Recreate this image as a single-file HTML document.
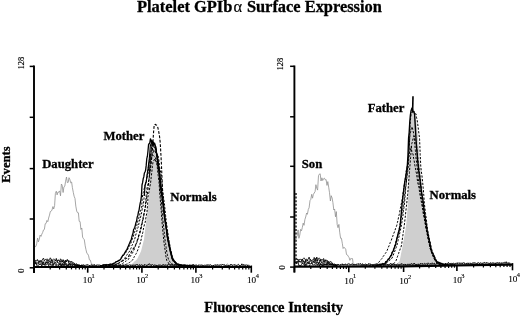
<!DOCTYPE html>
<html><head><meta charset="utf-8"><style>
html,body{margin:0;padding:0;background:#fff;}
svg{display:block;}
text{font-family:"Liberation Serif",serif;fill:#000;}
.t text,.t{stroke:#000;stroke-width:0.3;}
svg{will-change:transform;}
</style></head><body>
<svg width="520" height="316" viewBox="0 0 520 316">
<rect width="520" height="316" fill="#fff"/>
<path d="M105 266.3L105.6 266.2L106.2 266.3L106.8 266.3L107.4 266.2L108 266.3L108.6 266.3L109.2 266.2L109.8 266.3L110.4 266.3L111 266.3L111.6 266.3L112.2 266.3L112.8 266.3L113.4 266.3L114 266.2L114.6 266.3L115.2 266.3L115.8 266.3L116.4 266.3L117 266.3L117.6 266.3L118.2 266.2L118.8 266.2L119.4 266.3L120 266.3L120.6 266.3L121.2 266.3L121.8 266.3L122.4 266.3L123 266.1L123.6 266.3L124.2 266.3L124.8 266.1L125.4 266.2L126 266.2L126.6 266.3L127.2 266.3L127.8 266.2L128.4 265.9L129 265.8L129.6 265.5L130.2 265.2L130.8 265L131.4 264.4L132 263.9L132.6 263.3L133.2 262.8L133.8 262.2L134.4 261.6L135 261.1L135.6 260.7L136.2 260L136.8 259.5L137.4 258.4L138 257.4L138.6 256L139.2 254.9L139.8 253.9L140.4 252.5L141 251.3L141.6 248.9L142.2 246.6L142.8 244.3L143.4 241.7L144 239.4L144.6 234.4L145.2 229.3L145.8 224.9L146.4 219.5L147 214L147.6 209.1L148.2 203.9L148.8 196.8L149.4 183.1L150 169.1L150.6 165.4L151.2 161.8L151.8 158.1L152.4 155.9L153 153L153.6 150.8L154.2 150.2L154.8 150.7L155.4 150.6L156 151.4L156.6 153.2L157.2 156.7L157.8 160.3L158.4 164.1L159 167.7L159.6 173.2L160.2 179.3L160.8 185.4L161.4 191L162 197.3L162.6 201.5L163.2 206.3L163.8 211.4L164.4 215.6L165 220L165.6 223.9L166.2 228.2L166.8 232.2L167.4 236.3L168 240.1L168.6 243L169.2 245.7L169.8 247.9L170.4 250.9L171 253.6L171.6 256.2L172.2 258.9L172.8 259.7L173.4 260.5L174 261.1L174.6 261.8L175.2 262.3L175.8 263.1L176.4 263.6L177 264.1L177.6 265L178.2 265.3L178.8 265.3L179.4 265.4L180 266L180.6 266.2L181.2 266.2L181.8 266.3L182.4 266.3L183 266.3L183.6 266.3L184.2 266.3L184.8 266.3L185.4 266.3L186 266.3L186.6 266.3L187.2 266.3L187.8 266.3L188.4 266.3L189 266.3L189.6 266.2L190.2 266.3L190.8 266.3L191.4 266.3L192 266.3L192.6 266.3L193.2 266.3L193.8 266.3L194.4 266.3L195 266.2L195 267L105 267Z" fill="#cfcfcf"/>
<path d="M105 265.9L105.6 265.8L106.2 265.7L106.8 265.5L107.4 265.5L108 265.3L108.6 265.1L109.2 265L109.8 265L110.4 265.1L111 265.1L111.6 265.1L112.2 264.9L112.8 264.8L113.4 264.9L114 264.8L114.6 264.5L115.2 264.8L115.8 264.3L116.4 263.9L117 263.8L117.6 263.5L118.2 263.1L118.8 262.5L119.4 262.3L120 262.3L120.6 261.6L121.2 261L121.8 260.6L122.4 260.3L123 260.2L123.6 260.2L124.2 259L124.8 258.2L125.4 257.2L126 256L126.6 255.4L127.2 254.5L127.8 253.5L128.4 252.8L129 252L129.6 251.1L130.2 249.8L130.8 248.5L131.4 247.3L132 245.4L132.6 244.3L133.2 243.3L133.8 241.3L134.4 239.9L135 238.1L135.6 235.3L136.2 233.5L136.8 231.3L137.4 228.8L138 227.6L138.6 225L139.2 222.4L139.8 219.8L140.4 217.9L141 215.5L141.6 212.7L142.2 209.5L142.8 206.4L143.4 204.6L144 198.3L144.6 188.3L145.2 185.8L145.8 183.6L146.4 180.1L147 177.5L147.6 175.8L148.2 172L148.8 166.7L149.4 162.7L150 159L150.6 153.8L151.2 150.7L151.8 147.7L152.4 146.4L153 146L153.6 146.3L154.2 147.7L154.8 149L155.4 150.1L156 148.9L156.6 153.5L157.2 160.3L157.8 164.9L158.4 168.8L159 174.5L159.6 183.2L160.2 190.3L160.8 196.1L161.4 201.6L162 209.6L162.6 217.5L163.2 222.8L163.8 227.9L164.4 233.6L165 239.5L165.6 243.5L166.2 247.7L166.8 252.1L167.4 254.8L168 257.6L168.6 260.1L169.2 260.6L169.8 261.7L170.4 262.5L171 263.6L171.6 263.6L172.2 264.1L172.8 264.2L173.4 264.6L174 265L174.6 264.7L175.2 265.2L175.8 265L176.4 265.5L177 265.4L177.6 265.9L178.2 266.2L178.8 265.9L179.4 266.1L180 266.1L180.6 266L181.2 266.3L181.8 266.3L182.4 266.3L183 266.3L183.6 266.3L184.2 266.3L184.8 266.3L185.4 266.3L186 266.3L186.6 266.3L187.2 266.2L187.8 266.3L188.4 266.2L189 266.3L189.6 266.3L190.2 266.2L190.8 266.3L191.4 266.3L192 266.3L192.6 266.3L193.2 266.1L193.8 266.3L194.4 266L195 266.3" stroke="#000" stroke-width="1.0" fill="none" stroke-dasharray="2.2 1.5" stroke-linejoin="round"/>
<path d="M105 266.2L105.6 266L106.2 265.9L106.8 266.2L107.4 266.1L108 266.1L108.6 265.9L109.2 265.9L109.8 265.7L110.4 266.2L111 265.5L111.6 265.7L112.2 265.5L112.8 265.6L113.4 265.5L114 265.3L114.6 265.2L115.2 265.3L115.8 265.2L116.4 264.9L117 265.2L117.6 265.2L118.2 264.8L118.8 264.9L119.4 265L120 264.7L120.6 264.5L121.2 264.5L121.8 264.2L122.4 263.5L123 262.9L123.6 262.8L124.2 262.5L124.8 261.9L125.4 261.4L126 261.3L126.6 260.7L127.2 260.2L127.8 260.1L128.4 259.5L129 258.2L129.6 257.3L130.2 256.1L130.8 255.7L131.4 254.6L132 253.6L132.6 252.9L133.2 251.5L133.8 250.2L134.4 249L135 246.9L135.6 245.5L136.2 244L136.8 242.6L137.4 240.6L138 239L138.6 236L139.2 233.6L139.8 232.1L140.4 229L141 226.7L141.6 223.9L142.2 221.9L142.8 219.3L143.4 216.2L144 213.7L144.6 210L145.2 207.3L145.8 201.4L146.4 191.7L147 188.1L147.6 185.6L148.2 183.3L148.8 180L149.4 176.6L150 171.2L150.6 168.4L151.2 161.8L151.8 157.5L152.4 154.3L153 152.9L153.6 149.4L154.2 152.1L154.8 151.3L155.4 151.4L156 154.3L156.6 154L157.2 155.4L157.8 154.9L158.4 157.2L159 160.7L159.6 167.1L160.2 170.1L160.8 173L161.4 176.3L162 183.4L162.6 191.1L163.2 195.1L163.8 199.4L164.4 203.6L165 209.3L165.6 215.3L166.2 220.8L166.8 225.2L167.4 229.4L168 234L168.6 237.9L169.2 241.5L169.8 245L170.4 248.4L171 250.7L171.6 253.6L172.2 255.5L172.8 258.3L173.4 260.2L174 261.1L174.6 261.2L175.2 261.6L175.8 262.9L176.4 263.5L177 263.9L177.6 264.3L178.2 264.4L178.8 264.5L179.4 264.6L180 264.5L180.6 264.9L181.2 264.9L181.8 265.2L182.4 265.3L183 265.8L183.6 265.9L184.2 265.6L184.8 265.9L185.4 265.8L186 265.9L186.6 265.8L187.2 265.9L187.8 266L188.4 266.2L189 266.3L189.6 266.3L190.2 266.3L190.8 266.3L191.4 266.3L192 266.3L192.6 266.3L193.2 266.3L193.8 266.3L194.4 266.3L195 266.3" stroke="#000" stroke-width="1.0" fill="none" stroke-dasharray="2.2 1.5" stroke-linejoin="round"/>
<path d="M105 265.1L105.6 264.9L106.2 264.9L106.8 264.8L107.4 264.6L108 265.1L108.6 264.9L109.2 265L109.8 264.7L110.4 264.3L111 264.4L111.6 264L112.2 264.2L112.8 263.5L113.4 263.4L114 262.6L114.6 262.5L115.2 262.2L115.8 262.1L116.4 261.7L117 261.3L117.6 261.3L118.2 261L118.8 260.6L119.4 260.4L120 259.9L120.6 259.1L121.2 258.4L121.8 257.3L122.4 257.1L123 255.8L123.6 255.4L124.2 254.6L124.8 254.1L125.4 253L126 252.3L126.6 251.4L127.2 250.5L127.8 249.1L128.4 247.5L129 246.7L129.6 245.8L130.2 244.2L130.8 243.3L131.4 241.6L132 239.8L132.6 238.3L133.2 237L133.8 234.7L134.4 232.6L135 231L135.6 228.8L136.2 226.7L136.8 225.4L137.4 222.8L138 220.7L138.6 218.8L139.2 216.4L139.8 214.1L140.4 211.2L141 209.8L141.6 207.6L142.2 199.4L142.8 194L143.4 192.3L144 189.7L144.6 186.9L145.2 184.7L145.8 183.8L146.4 181.6L147 176.7L147.6 172.7L148.2 168.7L148.8 164.5L149.4 160.5L150 158.3L150.6 156.3L151.2 156L151.8 155.5L152.4 155L153 155.2L153.6 155.8L154.2 156.4L154.8 156.9L155.4 157.5L156 160L156.6 160.7L157.2 163.1L157.8 166.3L158.4 171.1L159 172.5L159.6 176.9L160.2 180.1L160.8 184.9L161.4 190.7L162 196.8L162.6 199.1L163.2 203.2L163.8 207.2L164.4 212.2L165 218.7L165.6 222.7L166.2 226L166.8 230L167.4 233.5L168 237.1L168.6 240.7L169.2 243.6L169.8 246.5L170.4 249.2L171 251.7L171.6 253.6L172.2 256.2L172.8 258L173.4 260.5L174 260.4L174.6 261.1L175.2 261.6L175.8 262.4L176.4 263.2L177 263.4L177.6 263.9L178.2 264.4L178.8 264.6L179.4 264.4L180 264.6L180.6 264.2L181.2 265L181.8 265.1L182.4 265.1L183 265.5L183.6 265.5L184.2 265.2L184.8 265.6L185.4 265.8L186 266L186.6 265.8L187.2 265.8L187.8 266L188.4 266.1L189 266.1L189.6 266.1L190.2 266.3L190.8 266.1L191.4 266.3L192 266.3L192.6 266.3L193.2 266.3L193.8 266.3L194.4 266.2L195 266.1" stroke="#000" stroke-width="1.0" fill="none" stroke-dasharray="2.2 1.5" stroke-linejoin="round"/>
<path d="M105 266L105.6 266.3L106.2 266.1L106.8 266.3L107.4 266.1L108 266.2L108.6 266L109.2 266.3L109.8 266.3L110.4 266.2L111 266.2L111.6 266.3L112.2 266.3L112.8 266.1L113.4 266.1L114 266.3L114.6 266.2L115.2 266.3L115.8 265.7L116.4 266L117 265.7L117.6 265.8L118.2 265.4L118.8 265.4L119.4 265.6L120 265.3L120.6 265.6L121.2 265.1L121.8 265.5L122.4 265.1L123 264.9L123.6 265L124.2 265L124.8 265L125.4 264.8L126 264.4L126.6 264.2L127.2 264.1L127.8 263.8L128.4 263L129 263L129.6 262.4L130.2 262.1L130.8 261.3L131.4 261L132 260.5L132.6 260L133.2 259.1L133.8 257.7L134.4 256.5L135 255.7L135.6 254.5L136.2 253.6L136.8 252.3L137.4 251L138 249.3L138.6 247.7L139.2 245.7L139.8 244.6L140.4 242.6L141 240.1L141.6 237.1L142.2 235L142.8 232.4L143.4 229.1L144 226.3L144.6 223.8L145.2 222.3L145.8 218.2L146.4 215L147 211.8L147.6 203.9L148.2 194.5L148.8 192.7L149.4 189.9L150 186L150.6 182.8L151.2 177.2L151.8 172.2L152.4 166.6L153 161.9L153.6 161.4L154.2 159.9L154.8 158.7L155.4 159.9L156 161.9L156.6 163.3L157.2 166.3L157.8 172.5L158.4 177.3L159 181.5L159.6 191.4L160.2 199L160.8 205.7L161.4 212.6L162 221.6L162.6 228.8L163.2 234.5L163.8 240.5L164.4 245.6L165 249.6L165.6 254.1L166.2 257.9L166.8 260.6L167.4 261.6L168 262.6L168.6 262.9L169.2 264.4L169.8 264.4L170.4 264.8L171 264.7L171.6 265L172.2 265.2L172.8 265.5L173.4 265.4L174 266L174.6 266.1L175.2 266.2L175.8 265.9L176.4 266.3L177 266.3L177.6 266.3L178.2 265.9L178.8 266.3L179.4 266.1L180 266.2L180.6 266.3L181.2 266.3L181.8 266.3L182.4 266.3L183 266.3L183.6 265.8L184.2 266.1L184.8 266.3L185.4 266.3L186 266.3L186.6 266.1L187.2 266.3L187.8 266.2L188.4 266.3L189 266.2L189.6 265.9L190.2 266.3L190.8 266.2L191.4 266.3L192 266.1L192.6 266.1L193.2 266.3L193.8 266.3L194.4 266.2L195 266.3" stroke="#000" stroke-width="1.0" fill="none" stroke-dasharray="2.2 1.5" stroke-linejoin="round"/>
<path d="M105 266.3L105.6 266.2L106.2 266.2L106.8 266.3L107.4 266.3L108 266.3L108.6 266.3L109.2 266.3L109.8 266.3L110.4 266.2L111 266.3L111.6 266.3L112.2 266.3L112.8 266.2L113.4 266L114 265.7L114.6 265.3L115.2 265L115.8 264.8L116.4 264.5L117 264.4L117.6 263.9L118.2 263.8L118.8 263.3L119.4 262.7L120 262.7L120.6 262.2L121.2 261.8L121.8 261.3L122.4 261.1L123 260.6L123.6 260.2L124.2 259.8L124.8 259.6L125.4 258.9L126 258.4L126.6 258.2L127.2 257.9L127.8 257.5L128.4 256.9L129 255.6L129.6 254.5L130.2 253.6L130.8 253.1L131.4 251.8L132 250.8L132.6 249.9L133.2 248.7L133.8 248.1L134.4 247L135 245.8L135.6 244.8L136.2 243.7L136.8 241.8L137.4 240L138 238.5L138.6 236.3L139.2 234.8L139.8 233.2L140.4 231L141 229L141.6 226.1L142.2 223.1L142.8 220.3L143.4 217.8L144 214.2L144.6 211.3L145.2 208.5L145.8 204.1L146.4 200.2L147 195.7L147.6 191.9L148.2 187.2L148.8 181.2L149.4 175.7L150 169.9L150.6 165.3L151.2 161.4L151.8 156.3L152.4 150.4L153 141.1L153.6 131.6L154.2 125L154.8 124.5L155.4 124.4L156 125.1L156.6 125.1L157.2 125.9L157.8 127.4L158.4 130L159 133.1L159.6 136.9L160.2 142.5L160.8 152.5L161.4 163.8L162 178.1L162.6 190.9L163.2 199.2L163.8 206.6L164.4 212.3L165 216.8L165.6 222.2L166.2 226.8L166.8 231.1L167.4 235.1L168 238.2L168.6 241.9L169.2 245.3L169.8 247.5L170.4 250.4L171 252.9L171.6 255.6L172.2 257.7L172.8 258.5L173.4 259.3L174 260.4L174.6 261.4L175.2 261.9L175.8 263L176.4 263.6L177 263.7L177.6 264.1L178.2 264.2L178.8 264.4L179.4 264.9L180 264.9L180.6 265.1L181.2 265.5L181.8 265.6L182.4 265.8L183 266L183.6 266.2L184.2 265.9L184.8 266.2L185.4 266.2L186 266.3L186.6 266.3L187.2 266.2L187.8 266.3L188.4 266.3L189 266.3L189.6 266.3L190.2 266.2L190.8 266.2L191.4 266.3L192 266.3L192.6 266.3L193.2 266.3L193.8 266.3L194.4 266.3L195 266.3" stroke="#000" stroke-width="1.1" fill="none" stroke-dasharray="2.8 1.6" stroke-linejoin="round"/>
<path d="M100 265.3L100.6 265.5L101.2 265.9L101.8 265.6L102.4 265.6L103 264.8L103.6 265.6L104.2 264.9L104.8 265.2L105.4 264.8L106 265.1L106.6 264.9L107.2 264.8L107.8 264.8L108.4 264.6L109 264.6L109.6 264.3L110.2 264L110.8 264.5L111.4 264.4L112 264.1L112.6 264.4L113.2 263.5L113.8 263.4L114.4 263.1L115 263L115.6 262.3L116.2 261.7L116.8 261.6L117.4 261.4L118 260.9L118.6 260.5L119.2 260.4L119.8 259.9L120.4 259.7L121 258.5L121.6 257L122.2 256.6L122.8 255.1L123.4 255.1L124 254.3L124.6 253.1L125.2 252.1L125.8 251.1L126.4 250.2L127 249.5L127.6 247.7L128.2 246.6L128.8 244.9L129.4 243.6L130 242.2L130.6 240.8L131.2 239.8L131.8 237.1L132.4 234.9L133 233.3L133.6 229.5L134.2 228.6L134.8 227.2L135.4 225.1L136 222.4L136.6 221L137.2 217.1L137.8 215.8L138.4 212.1L139 210.5L139.6 206.6L140.2 203.2L140.8 200.8L141.4 196.2L142 185L142.6 182.7L143.2 178.8L143.8 176.9L144.4 173L145 172L145.6 170.3L146.2 165.4L146.8 158.6L147.4 156.2L148 150.7L148.6 144.2L149.2 143.9L149.8 142.9L150.4 138.8L151 140.1L151.6 142.5L152.2 140.9L152.8 142.2L153.4 142.3L154 144.5L154.6 143.1L155.2 145.7L155.8 146.9L156.4 153.2L157 155.4L157.6 159.1L158.2 164.5L158.8 168.8L159.4 171.8L160 178.8L160.6 185.4L161.2 189.1L161.8 191.3L162.4 196.9L163 200.7L163.6 208.1L164.2 214L164.8 218.5L165.4 222.9L166 226.8L166.6 230.1L167.2 236.2L167.8 239.3L168.4 242.2L169 246L169.6 248.2L170.2 251.3L170.8 253.2L171.4 255.7L172 258.2L172.6 259.6L173.2 261L173.8 260.3L174.4 261.5L175 262.6L175.6 263.1L176.2 263.6L176.8 264L177.4 264L178 264.4L178.6 264.2L179.2 264.6L179.8 264.6L180.4 265.1L181 265.1L181.6 265.1L182.2 265.4L182.8 265.4L183.4 265.5L184 266L184.6 265.4L185.2 266.2L185.8 265.4L186.4 265.7L187 265.9L187.6 266.1L188.2 266.3L188.8 265.7L189.4 265.7L190 266.3L190.6 265.8L191.2 266L191.8 266.1L192.4 266.2L193 266.3L193.6 266.3L194.2 266.2L194.8 265.9" stroke="#000" stroke-width="1.3" fill="none" stroke-linejoin="round"/>
<path d="M144.4 195.8L145 185.9L145.6 182.7L146.2 181.8L146.8 176.8L147.4 172.5L148 168.9L148.6 163.8L149.2 159.2L149.8 152.7L150.4 144.7L151 145.3L151.6 140.2L152.2 143.3L152.8 141.7L153.4 144.9L154 144.2L154.6 144.5L155.2 145.3L155.8 148.4L156.4 151L157 155.9L157.6 159L158.2 163.4L158.8 167.5L159.4 170.5L160 180.1L160.6 187.3L161.2 191.5L161.8 195.7" stroke="#000" stroke-width="1.1" fill="none" stroke-linejoin="round"/>
<path d="M149.2 174.1L149.8 166.4L150.4 162.6L151 152.8L151.6 146.5L152.2 142.6L152.8 145.7L153.4 144.6L154 146.8L154.6 147L155.2 148.6L155.8 148.1L156.4 151.7L157 155.2L157.6 160.2L158.2 163.4L158.8 166.9L159.4 174.2" stroke="#000" stroke-width="0.9" fill="none" stroke-linejoin="round"/>
<path d="M156.6 153.3L157.2 156.3L157.8 160.2L158.4 165.4L159 168.8L159.6 173.8L160.2 178.9L160.8 185.1L161.4 191.1L162 196.6L162.6 201.2L163.2 205.8L163.8 211.4L164.4 216.4L165 219.6L165.6 224.1L166.2 228.2L166.8 232.4L167.4 236.9L168 240.7L168.6 242.6L169.2 245.2L169.8 247.9L170.4 250.8L171 253.5L171.6 256.3L172.2 258.8L172.8 259.9L173.4 260.6L174 261.1L174.6 261.4L175.2 262.7L175.8 262.9L176.4 263.5L177 264.5L177.6 264.8L178.2 265.1L178.8 265.4L179.4 265.7L180 266.1L180.6 265.8L181.2 265.9L181.8 266L182.4 266.3L183 266.2L183.6 266.2L184.2 266.3L184.8 266.3L185.4 266.2L186 266.3L186.6 266.3L187.2 266.3L187.8 266.3L188.4 266.3L189 266.3L189.6 266.1L190.2 266.3L190.8 266.3L191.4 266.3L192 265.9L192.6 266.3L193.2 266L193.8 266L194.4 266.3L195 266.3" stroke="#000" stroke-width="1.2" fill="none" stroke-linejoin="round"/>
<path d="M365 265.7L365.6 265.7L366.2 265.7L366.8 265.7L367.4 265.5L368 265.6L368.6 265.7L369.2 265.6L369.8 265.7L370.4 265.7L371 265.6L371.6 265.7L372.2 265.7L372.8 265.7L373.4 265.6L374 265.7L374.6 265.6L375.2 265.7L375.8 265.7L376.4 265.7L377 265.6L377.6 265.7L378.2 265.6L378.8 265.6L379.4 265.7L380 265.6L380.6 265.5L381.2 265.7L381.8 265.7L382.4 265.7L383 265.6L383.6 265.6L384.2 265.6L384.8 265.6L385.4 265.6L386 265.6L386.6 265.6L387.2 265.6L387.8 265.6L388.4 265.6L389 265.6L389.6 265.5L390.2 265.6L390.8 265.6L391.4 265.6L392 265.5L392.6 265.6L393.2 265.3L393.8 265.5L394.4 265.1L395 264.9L395.6 264.8L396.2 264.2L396.8 263.6L397.4 263.2L398 262.7L398.6 262.1L399.2 261.8L399.8 260.1L400.4 257.2L401 254L401.6 251.1L402.2 248.1L402.8 245.1L403.4 241.6L404 238.3L404.6 234.8L405.2 231.4L405.8 227.3L406.4 223.2L407 214.9L407.6 207.2L408.2 191.4L408.8 159.4L409.4 134.5L410 123.3L410.6 118.1L411.2 113.5L411.8 113.1L412.4 112.2L413 111.5L413.6 112.6L414.2 112.9L414.8 114.1L415.4 116.9L416 120L416.6 123.6L417.2 128.6L417.8 134.7L418.4 142.7L419 151.2L419.6 160.5L420.2 166.2L420.8 172.5L421.4 178.3L422 184.7L422.6 191.3L423.2 197.9L423.8 204.4L424.4 208.7L425 213.1L425.6 217.1L426.2 221.2L426.8 225.4L427.4 229.5L428 232.1L428.6 235.3L429.2 238.2L429.8 240.8L430.4 244L431 246.6L431.6 249.4L432.2 250.7L432.8 252.4L433.4 253.5L434 255L434.6 256.6L435.2 257.7L435.8 259.2L436.4 260.7L437 261.4L437.6 261.7L438.2 262L438.8 262.3L439.4 262.7L440 263.2L440.6 263.6L441.2 263.9L441.8 264.3L442.4 264.4L443 264.5L443.6 264.5L444.2 264.5L444.8 264.7L445.4 264.7L446 264.8L446.6 264.6L447.2 264.8L447.8 264.7L448.4 264.8L449 264.7L449.6 264.7L450.2 264.7L450.8 264.7L451.4 264.7L452 264.6L452.6 264.7L453.2 264.5L453.8 264.7L454.4 264.5L455 264.6L455 265.3L365 266.4Z" fill="#cfcfcf"/>
<path d="M365 266.4L365.6 266.4L366.2 266.4L366.8 266.3L367.4 266.4L368 266.2L368.6 266.4L369.2 266.4L369.8 266.4L370.4 266.4L371 266.4L371.6 266.2L372.2 266.3L372.8 266.4L373.4 266.4L374 266.1L374.6 266.2L375.2 266.4L375.8 266.4L376.4 266.4L377 266.4L377.6 266.2L378.2 266.2L378.8 265.9L379.4 265.6L380 265.4L380.6 265.4L381.2 265.2L381.8 264.6L382.4 264.6L383 264.1L383.6 263.5L384.2 263.2L384.8 262.7L385.4 261.9L386 261.5L386.6 261.4L387.2 260.7L387.8 260.5L388.4 260.1L389 259.3L389.6 257.7L390.2 256.7L390.8 255.1L391.4 254.3L392 252.7L392.6 251.4L393.2 250.1L393.8 248.6L394.4 246.8L395 244.8L395.6 242.9L396.2 240.5L396.8 238.2L397.4 236.2L398 234.3L398.6 232.2L399.2 229L399.8 225.8L400.4 222.7L401 219.1L401.6 215.7L402.2 212.6L402.8 209.3L403.4 205.4L404 200.8L404.6 195.5L405.2 190.7L405.8 186L406.4 181.3L407 174.1L407.6 166.8L408.2 158.9L408.8 151.1L409.4 142.5L410 134.4L410.6 132.2L411.2 128.9L411.8 126.9L412.4 127.6L413 130.8L413.6 133L414.2 137.6L414.8 144.4L415.4 150.7L416 157.9L416.6 162.5L417.2 167.8L417.8 173L418.4 179.6L419 183.3L419.6 187.8L420.2 190.1L420.8 194.4L421.4 198L422 202.4L422.6 205.7L423.2 209.8L423.8 213.9L424.4 217.8L425 221.6L425.6 225.5L426.2 229.7L426.8 231.9L427.4 235.1L428 237.9L428.6 240.8L429.2 243.7L429.8 246.5L430.4 249.2L431 251.1L431.6 252.2L432.2 253.9L432.8 255.1L433.4 256.9L434 258.1L434.6 259.5L435.2 260.8L435.8 261.7L436.4 262.4L437 262.8L437.6 262.8L438.2 263.4L438.8 264L439.4 264L440 264.4L440.6 265.1L441.2 265.1L441.8 265L442.4 265.3L443 265.4L443.6 265.4L444.2 265.2L444.8 265.5L445.4 265.5L446 265.5L446.6 265.5L447.2 265.4L447.8 265.5L448.4 265.4L449 265.4L449.6 265.3L450.2 265.4L450.8 265.4L451.4 265.4L452 265.4L452.6 265.2L453.2 265.3L453.8 265.4L454.4 265.3L455 265.2" stroke="#000" stroke-width="1.0" fill="none" stroke-dasharray="2.2 1.5" stroke-linejoin="round"/>
<path d="M365 266.4L365.6 266.4L366.2 266.3L366.8 266.3L367.4 266.4L368 266.4L368.6 266.4L369.2 266.4L369.8 266.4L370.4 266.4L371 266.3L371.6 266.3L372.2 266.4L372.8 266.2L373.4 266.3L374 266.4L374.6 266.3L375.2 266.4L375.8 266.2L376.4 266.4L377 266.4L377.6 266.4L378.2 266.2L378.8 266.4L379.4 266.4L380 266.4L380.6 266.3L381.2 266.3L381.8 266.3L382.4 266.3L383 266L383.6 266.4L384.2 266.4L384.8 266.4L385.4 266.3L386 266.2L386.6 266.3L387.2 266.3L387.8 266.3L388.4 266L389 265.8L389.6 265.7L390.2 265.8L390.8 265.3L391.4 264.9L392 264.5L392.6 264L393.2 263.7L393.8 263.3L394.4 263L395 262.5L395.6 261.7L396.2 260.3L396.8 258.5L397.4 256.8L398 255.2L398.6 253.5L399.2 251.4L399.8 250.2L400.4 248.2L401 247.1L401.6 244.7L402.2 240.3L402.8 235.9L403.4 231.5L404 227.2L404.6 222.7L405.2 217.5L405.8 211.7L406.4 206.3L407 200.7L407.6 194.7L408.2 188.1L408.8 180L409.4 172.6L410 164.8L410.6 157.4L411.2 149.1L411.8 143.6L412.4 141.7L413 138.8L413.6 137.1L414.2 136.1L414.8 138.5L415.4 141.4L416 142.8L416.6 146.3L417.2 152L417.8 157.8L418.4 163.8L419 168.7L419.6 173.8L420.2 178.8L420.8 183.4L421.4 189.7L422 195.6L422.6 201.5L423.2 206.7L423.8 210.5L424.4 215.2L425 219.3L425.6 223.1L426.2 227.8L426.8 231.1L427.4 234.4L428 237L428.6 240.1L429.2 242.8L429.8 245.3L430.4 248.7L431 250.4L431.6 251.8L432.2 253.3L432.8 254.8L433.4 255.8L434 257.3L434.6 258.5L435.2 259.9L435.8 261L436.4 262L437 262.5L437.6 262.8L438.2 263.2L438.8 263.4L439.4 263.9L440 264.4L440.6 264.6L441.2 265.2L441.8 265.2L442.4 265.4L443 265.4L443.6 265.5L444.2 265.3L444.8 265.5L445.4 265.5L446 265.5L446.6 265.4L447.2 265.4L447.8 265.2L448.4 265L449 265.4L449.6 265.4L450.2 265.4L450.8 265.4L451.4 265.4L452 265.4L452.6 265.4L453.2 265.4L453.8 265.2L454.4 265.3L455 265.3" stroke="#000" stroke-width="1.0" fill="none" stroke-dasharray="2.2 1.5" stroke-linejoin="round"/>
<path d="M365 266.3L365.6 266.2L366.2 266.4L366.8 266.4L367.4 266.4L368 266.1L368.6 266.2L369.2 266.1L369.8 266.2L370.4 265.9L371 265.7L371.6 265.6L372.2 265.5L372.8 265.2L373.4 265.1L374 264.7L374.6 264.6L375.2 264.2L375.8 264.1L376.4 263.9L377 263.4L377.6 263.5L378.2 263L378.8 262L379.4 261.7L380 260.6L380.6 259.8L381.2 259.3L381.8 258.6L382.4 258.1L383 256.7L383.6 255.8L384.2 255.2L384.8 253.7L385.4 253.4L386 252.5L386.6 251.7L387.2 250.3L387.8 248.8L388.4 247.2L389 245.9L389.6 244.5L390.2 242.6L390.8 241.6L391.4 240.1L392 238L392.6 236.7L393.2 234.9L393.8 233.3L394.4 232L395 230.4L395.6 228.4L396.2 227.1L396.8 225.2L397.4 222.6L398 220.3L398.6 216.8L399.2 214.8L399.8 211.2L400.4 208.3L401 204.8L401.6 202.8L402.2 199.2L402.8 195L403.4 190.9L404 186.5L404.6 182.8L405.2 178.9L405.8 174.4L406.4 169.8L407 167.7L407.6 162.9L408.2 158.8L408.8 156.4L409.4 152.8L410 151.1L410.6 148.7L411.2 146.5L411.8 151.6L412.4 153L413 154L413.6 158.2L414.2 161L414.8 165.2L415.4 168.1L416 171.6L416.6 173.9L417.2 178.9L417.8 183.1L418.4 185L419 187.8L419.6 192.3L420.2 196.2L420.8 199.3L421.4 202.1L422 205.9L422.6 209.1L423.2 213.4L423.8 216.1L424.4 219.1L425 222.5L425.6 225.7L426.2 228.1L426.8 231.1L427.4 234.5L428 237.5L428.6 240L429.2 243.5L429.8 246.3L430.4 248.9L431 251L431.6 252.6L432.2 254.3L432.8 255.4L433.4 256.8L434 258.4L434.6 259.6L435.2 261.1L435.8 261.7L436.4 262.1L437 262.5L437.6 263.2L438.2 263.7L438.8 264.2L439.4 264.6L440 265.2L440.6 265L441.2 265.6L441.8 265.2L442.4 265.5L443 265.3L443.6 265.2L444.2 265.5L444.8 265.5L445.4 265.4L446 265.5L446.6 265.4L447.2 265.4L447.8 265.5L448.4 265.4L449 265.4L449.6 265.4L450.2 265.4L450.8 265.3L451.4 265.1L452 265.4L452.6 265.3L453.2 265.4L453.8 265.4L454.4 265.3L455 265.3" stroke="#000" stroke-width="1.0" fill="none" stroke-dasharray="2.2 1.5" stroke-linejoin="round"/>
<path d="M365 266.2L365.6 266.4L366.2 266.4L366.8 266.2L367.4 266.3L368 266.3L368.6 266.4L369.2 266.4L369.8 266.3L370.4 266.4L371 266.3L371.6 266.4L372.2 266.4L372.8 266.3L373.4 266.3L374 266.4L374.6 266.4L375.2 266.3L375.8 266.3L376.4 266.3L377 266.3L377.6 266.4L378.2 266.4L378.8 266.3L379.4 266.4L380 266.2L380.6 266.4L381.2 266.2L381.8 265.6L382.4 265.6L383 265.3L383.6 265L384.2 264.7L384.8 264.5L385.4 264L386 263.2L386.6 262.8L387.2 262.4L387.8 261.9L388.4 261.3L389 260.8L389.6 260.5L390.2 259.8L390.8 259.4L391.4 258.5L392 258.3L392.6 256.5L393.2 255.4L393.8 253.6L394.4 252.2L395 250.7L395.6 248.8L396.2 247.6L396.8 245.9L397.4 243.7L398 240.8L398.6 238.1L399.2 236.1L399.8 232.7L400.4 230.4L401 227L401.6 224.3L402.2 220L402.8 216.8L403.4 211.2L404 207.4L404.6 202.2L405.2 194.6L405.8 187.1L406.4 182.7L407 176.8L407.6 172.6L408.2 167.9L408.8 158.8L409.4 145.8L410 125.1L410.6 118.4L411.2 113.3L411.8 112.3L412.4 112.6L413 111L413.6 112L414.2 111.5L414.8 113.3L415.4 113.7L416 113.8L416.6 117.8L417.2 120.3L417.8 124.8L418.4 129.2L419 134.2L419.6 139.3L420.2 154.6L420.8 166.7L421.4 172L422 176L422.6 181.9L423.2 187.8L423.8 195.5L424.4 203.9L425 208.9L425.6 213.8L426.2 218.2L426.8 223.3L427.4 228.6L428 232.1L428.6 234.9L429.2 238.1L429.8 241L430.4 243L431 246.5L431.6 249L432.2 251.1L432.8 252.4L433.4 254L434 254.8L434.6 256.5L435.2 257.5L435.8 259.3L436.4 260.3L437 261.4L437.6 262.2L438.2 262.2L438.8 262.7L439.4 263L440 263.1L440.6 263.3L441.2 263.5L441.8 264L442.4 264.1L443 264.5L443.6 264.8L444.2 265.1L444.8 265.1L445.4 264.6L446 265.4L446.6 265.3L447.2 265.5L447.8 265.2L448.4 265.2L449 265.3L449.6 265.1L450.2 265.4L450.8 265.2L451.4 265.4L452 265.2L452.6 265.2L453.2 265.4L453.8 265.2L454.4 265.3L455 265.3" stroke="#000" stroke-width="1.0" fill="none" stroke-dasharray="2.2 1.5" stroke-linejoin="round"/>
<path d="M360 266.3L360.6 266.4L361.2 266.2L361.8 266.4L362.4 266L363 266.4L363.6 266.3L364.2 266.2L364.8 266.3L365.4 266.4L366 266.4L366.6 266.4L367.2 266.4L367.8 266.4L368.4 266.4L369 266.4L369.6 266.4L370.2 266.3L370.8 266.4L371.4 266.4L372 266.4L372.6 266.3L373.2 266.4L373.8 266.3L374.4 266.3L375 266.2L375.6 265.9L376.2 266.2L376.8 265.6L377.4 265.4L378 265.2L378.6 265.1L379.2 264.7L379.8 264.3L380.4 264.7L381 264.7L381.6 264.3L382.2 263.6L382.8 264L383.4 263.9L384 263.9L384.6 263.8L385.2 263.6L385.8 261.7L386.4 262L387 261.3L387.6 260.3L388.2 259.2L388.8 259L389.4 258.1L390 257.1L390.6 256L391.2 255.9L391.8 254L392.4 252L393 251.5L393.6 250.1L394.2 248.1L394.8 246.5L395.4 245.4L396 242.8L396.6 240.1L397.2 237.5L397.8 235.3L398.4 232.4L399 231.2L399.6 227.7L400.2 225.7L400.8 218.4L401.4 212.2L402 204.7L402.6 199.3L403.2 194.5L403.8 189.6L404.4 184.5L405 180.5L405.6 177.7L406.2 174L406.8 169.4L407.4 164.9L408 154.8L408.6 138L409.2 132.2L409.8 121.9L410.4 115.1L411 111L411.6 109.1L412.2 107.9L412.8 110.8L413.4 111.9L414 112L414.6 114.1L415.2 124.9L415.8 135.4L416.4 144.9L417 152L417.6 160.3L418.2 165.6L418.8 171.6L419.4 175L420 180.2L420.6 185L421.2 189.4L421.8 194.5L422.4 197L423 200.7L423.6 205.7L424.2 210.7L424.8 214.8L425.4 219L426 223.3L426.6 226.2L427.2 230.7L427.8 233.1L428.4 236.8L429 238.9L429.6 241.9L430.2 244.6L430.8 248.1L431.4 250.3L432 251.9L432.6 253.5L433.2 254.7L433.8 255.7L434.4 257.1L435 258.6L435.6 259.9L436.2 260.7L436.8 261.6L437.4 261.8L438 262.1L438.6 262.5L439.2 262.5L439.8 263L440.4 263.3L441 263.4L441.6 263.5L442.2 264.2L442.8 264.2L443.4 264.7L444 264.6L444.6 264.9L445.2 264.5L445.8 265.3L446.4 265.1L447 264.7L447.6 264.7L448.2 265.5L448.8 265.2L449.4 265.4L450 265.4L450.6 265.3L451.2 265.3L451.8 264.8L452.4 265.4L453 265.2L453.6 265.2L454.2 265.1L454.8 265.3" stroke="#000" stroke-width="1.4" fill="none" stroke-linejoin="round"/>
<path d="M412.6 112L413 96.3" stroke="#000" stroke-width="1.6" fill="none" stroke-linejoin="round"/>
<path d="M296 193V265" stroke="#000" stroke-width="1.3" fill="none" stroke-dasharray="2 1.6" stroke-linejoin="round"/>
<path d="M35 246.8L35.9 246.4L36.7 243.6L37.6 238L38.4 241.9L39.3 239.2L40.1 235.1L41 236.4L41.8 234.2L42.7 232.4L43.5 229.9L44.4 229.4L45.2 223.8L46.1 223.4L46.9 220.5L47.8 221.7L48.6 218.1L49.5 215.1L50.3 211.6L51.2 211.2L52 210L52.9 206.6L53.7 209L54.6 205.6L55.4 193.3L56.3 191.2L57.1 194.9L58 192L58.8 192.2L59.7 190.9L60.5 195.8L61.4 184L62.2 185.4L63.1 192.5L63.9 187L64.8 186.1L65.6 181.2L66.5 177L67.3 182.6L68.2 182.4L69 177.7L69.9 179.6L70.7 182.8L71.6 182L72.4 187.6L73.3 192.4L74.1 196.2L75 198.5L75.8 206.1L76.7 211L77.5 212.7L78.4 212.8L79.2 221.3L80.1 221.6L80.9 229.4L81.8 228L82.6 237.2L83.5 238.7L84.3 239.7L85.2 245.8L86 249.8L86.9 253.4L87.7 253.9L88.6 255.8L89.4 259.8L90.3 260.1L91.1 262.8L92 265.2L92.8 263.9L93.7 264.9L94.5 265.6L95.4 265.6L96.2 265.8L97.1 266.5L97.9 266.6L98.8 267L99.6 266.8" stroke="#8f8f8f" stroke-width="0.8" fill="none" stroke-linejoin="round"/>
<path d="M295.5 240.5L296.4 237.1L297.2 235.7L298.1 229.9L298.9 238.3L299.8 235L300.6 229.4L301.5 230.8L302.3 227.6L303.2 223.1L304 225.3L304.9 219.5L305.7 217L306.6 213L307.4 214.3L308.3 209.4L309.1 207.8L310 200.6L310.8 199.4L311.7 194.3L312.5 198.2L313.4 194.3L314.2 193L315.1 191.5L315.9 184.7L316.8 188.4L317.6 190.1L318.5 175.6L319.3 174.2L320.2 173.8L321 181L321.9 177.8L322.7 180.5L323.6 178.7L324.4 178.2L325.3 179.8L326.1 179.6L327 185.4L327.8 181.6L328.7 187.2L329.5 192.7L330.4 201L331.2 195.7L332.1 198L332.9 202.5L333.8 210L334.6 209L335.5 216.8L336.3 211.6L337.2 224.6L338 227.7L338.9 224.4L339.7 232.2L340.6 238.3L341.4 238.2L342.3 243.3L343.1 248.5L344 247.2L344.8 248.1L345.7 249.2L346.5 254.5L347.4 254.9L348.2 256.2L349.1 257.6L349.9 260.3L350.8 258.4L351.6 258.6L352.5 258.6L353.3 265L354.2 264L355 264.7L355.9 264.5L356.7 264.6L357.6 265.3L358.4 265.4L359.3 265.4" stroke="#8f8f8f" stroke-width="0.8" fill="none" stroke-linejoin="round"/>
<path d="M35 263L35.9 263.2L36.7 265.5L37.6 265.2L38.4 265.5L39.3 264.1L40.1 264.9L41 263.8L41.8 266.5L42.7 262.8L43.5 264.9L44.4 263.9L45.2 265L46.1 265.3L46.9 264.2L47.8 263.7L48.6 265.1L49.5 265L50.3 263.9L51.2 265.9L52 266.5L52.9 264.3L53.7 265.7L54.6 266.5L55.4 265.9L56.3 265.4L57.1 266.3L58 266.5L58.8 264.7L59.7 263.6L60.5 265.1L61.4 265.8L62.2 264.3L63.1 263.9L63.9 265.2L64.8 264.1L65.6 263.5L66.5 265.1L67.3 265.9L68.2 264.5L69 264.7L69.9 263.9L70.7 266.3L71.6 265.8L72.4 265.9L73.3 266.5L74.1 265.3L75 265.2L75.8 265.9L76.7 265.1L77.5 265.4L78.4 265.6L79.2 265.7L80.1 265.8L80.9 266L81.8 265.9L82.6 266L83.5 266" stroke="#000" stroke-width="0.85" fill="none" stroke-linejoin="round"/>
<path d="M35 264L35.9 262.7L36.7 264.3L37.6 263.7L38.4 263.3L39.3 264.9L40.1 262.9L41 263.8L41.8 263.1L42.7 264.4L43.5 262.3L44.4 262.9L45.2 263.9L46.1 262.9L46.9 262.1L47.8 261.4L48.6 265.8L49.5 262.6L50.3 263.1L51.2 263.8L52 265L52.9 262.1L53.7 265.4L54.6 263L55.4 262L56.3 265.8L57.1 264.1L58 265.4L58.8 263.4L59.7 261.7L60.5 261.1L61.4 266L62.2 264.5L63.1 262.8L63.9 261.7L64.8 263.2L65.6 264.7L66.5 263.4L67.3 263.9L68.2 264.2L69 264.9L69.9 263.8L70.7 264L71.6 264.5L72.4 264.8L73.3 265.7L74.1 265.2L75 264.3L75.8 265.3L76.7 265.9L77.5 265L78.4 265.4L79.2 265.3L80.1 265.8L80.9 265.9L81.8 266L82.6 265.9L83.5 266" stroke="#000" stroke-width="0.85" fill="none" stroke-dasharray="1.4 1.1" stroke-linejoin="round"/>
<path d="M35 263.5L35.9 261.8L36.7 263.7L37.6 263L38.4 263.1L39.3 262.4L40.1 261.2L41 262.6L41.8 261.4L42.7 263.2L43.5 262.2L44.4 265.4L45.2 264.5L46.1 261.6L46.9 263.4L47.8 261.9L48.6 261.9L49.5 260.9L50.3 261.6L51.2 261.3L52 262.8L52.9 263.5L53.7 263.6L54.6 263.2L55.4 264.1L56.3 263.3L57.1 262.7L58 262.3L58.8 263.1L59.7 265.1L60.5 262.7L61.4 262.3L62.2 261.2L63.1 261.9L63.9 263.5L64.8 263.6L65.6 260.1L66.5 261.8L67.3 260.7L68.2 260.5L69 264L69.9 262.9L70.7 263.1L71.6 263.2L72.4 263.5L73.3 264L74.1 264.2L75 265.4L75.8 264.8L76.7 265.3L77.5 265.1L78.4 265.5L79.2 265.4L80.1 265.5L80.9 265.8L81.8 265.9L82.6 266L83.5 266" stroke="#000" stroke-width="0.85" fill="none" stroke-linejoin="round"/>
<path d="M35 261.9L35.9 260.7L36.7 261.2L37.6 260.5L38.4 263L39.3 260.1L40.1 262.2L41 262.2L41.8 261.5L42.7 262L43.5 260.9L44.4 262L45.2 262.6L46.1 262.3L46.9 259.5L47.8 261.2L48.6 262.8L49.5 261.2L50.3 263.3L51.2 258.9L52 263.2L52.9 260.6L53.7 260.5L54.6 263.1L55.4 260.8L56.3 259.9L57.1 260.6L58 260.9L58.8 260L59.7 261L60.5 260.8L61.4 261.4L62.2 260.4L63.1 262.5L63.9 260.2L64.8 261.9L65.6 262.7L66.5 261L67.3 259.5L68.2 260.7L69 262.5L69.9 261.5L70.7 262.9L71.6 262.9L72.4 263L73.3 265L74.1 263.5L75 264.5L75.8 264.6L76.7 265.1L77.5 265.3L78.4 265.3L79.2 265.2L80.1 265.3L80.9 265.7L81.8 265.8L82.6 265.9L83.5 266" stroke="#000" stroke-width="0.85" fill="none" stroke-dasharray="1.4 1.1" stroke-linejoin="round"/>
<path d="M35 259.8L35.9 260.9L36.7 260L37.6 259.6L38.4 261.5L39.3 262.3L40.1 260.7L41 260.7L41.8 260.8L42.7 259.1L43.5 258.1L44.4 260.9L45.2 259.5L46.1 259.2L46.9 259.5L47.8 259L48.6 260.9L49.5 259.4L50.3 257.8L51.2 259.3L52 261.2L52.9 259.6L53.7 258.8L54.6 259.9L55.4 261.1L56.3 258.4L57.1 262L58 259.7L58.8 260.4L59.7 261.9L60.5 258.8L61.4 259.9L62.2 261.9L63.1 259.6L63.9 261L64.8 262.9L65.6 261.4L66.5 260.3L67.3 260L68.2 260.8L69 261.2L69.9 261.1L70.7 262.1L71.6 261.1L72.4 262.4L73.3 262.7L74.1 262.9L75 264.2L75.8 264.3L76.7 263.7L77.5 264.5L78.4 265L79.2 265.1L80.1 265.5L80.9 265.6L81.8 265.8L82.6 265.9L83.5 266" stroke="#000" stroke-width="0.85" fill="none" stroke-linejoin="round"/>
<path d="M295.5 262.9L296.4 263.3L297.2 263.4L298.1 262.2L298.9 265.9L299.8 265.1L300.6 266L301.5 264.4L302.3 263L303.2 264.3L304 263.6L304.9 266.1L305.7 264.1L306.6 265.4L307.4 262L308.3 263.1L309.1 263L310 264.3L310.8 263.5L311.7 263.4L312.5 264.7L313.4 264.9L314.2 264.4L315.1 265L315.9 265L316.8 264.6L317.6 265.2L318.5 263.2L319.3 266L320.2 263.2L321 265L321.9 264.9L322.7 266L323.6 264.4L324.4 264.5L325.3 264L326.1 264.9L327 264.3L327.8 262.5L328.7 264.1L329.5 265.1L330.4 264.1L331.2 265L332.1 264.7L332.9 264.9L333.8 265.3L334.6 265.7L335.5 265.4L336.3 265.4L337.2 265.5" stroke="#000" stroke-width="0.85" fill="none" stroke-linejoin="round"/>
<path d="M295.5 261.9L296.4 263.9L297.2 261.6L298.1 261.1L298.9 261.8L299.8 261.7L300.6 261.8L301.5 260.3L302.3 263L303.2 263.2L304 262.4L304.9 264.4L305.7 265.2L306.6 264.3L307.4 262.7L308.3 262.6L309.1 265.2L310 265.6L310.8 263.6L311.7 263.4L312.5 263.2L313.4 262.3L314.2 261.6L315.1 262.9L315.9 262.4L316.8 264.6L317.6 264.7L318.5 262.9L319.3 262.3L320.2 262.2L321 262.4L321.9 262.1L322.7 262.1L323.6 265.4L324.4 264.1L325.3 262.6L326.1 262.6L327 265.1L327.8 262.3L328.7 264.2L329.5 264.1L330.4 263.9L331.2 263.9L332.1 265.3L332.9 264.4L333.8 264.9L334.6 265.3L335.5 265.3L336.3 265.5L337.2 265.5" stroke="#000" stroke-width="0.85" fill="none" stroke-dasharray="1.4 1.1" stroke-linejoin="round"/>
<path d="M295.5 262.7L296.4 262.2L297.2 262L298.1 261.7L298.9 260.4L299.8 261.8L300.6 262.1L301.5 261.1L302.3 259.1L303.2 262.2L304 261.1L304.9 263.8L305.7 260L306.6 260.9L307.4 260L308.3 261.8L309.1 263.1L310 260.6L310.8 260.8L311.7 262.9L312.5 263.6L313.4 261.1L314.2 261.9L315.1 258.3L315.9 262.5L316.8 262.4L317.6 261.9L318.5 263.9L319.3 262.9L320.2 259.6L321 261.9L321.9 262.5L322.7 263.4L323.6 260.9L324.4 260.9L325.3 261.5L326.1 262.4L327 261.8L327.8 262L328.7 263.3L329.5 262.5L330.4 264.9L331.2 264.5L332.1 264.2L332.9 264.4L333.8 265L334.6 264.9L335.5 265L336.3 265.3L337.2 265.4" stroke="#000" stroke-width="0.85" fill="none" stroke-linejoin="round"/>
<path d="M295.5 260.6L296.4 262.6L297.2 261.4L298.1 259.4L298.9 262.6L299.8 261L300.6 261.6L301.5 262.2L302.3 262.4L303.2 260.9L304 260.7L304.9 260.7L305.7 262.9L306.6 261.4L307.4 260.6L308.3 259.8L309.1 260.2L310 260L310.8 259.6L311.7 260L312.5 262.1L313.4 261L314.2 262L315.1 264.1L315.9 263.2L316.8 258.3L317.6 262.5L318.5 263.9L319.3 261.8L320.2 259.1L321 261.1L321.9 260.5L322.7 261.4L323.6 261.1L324.4 259.4L325.3 260.1L326.1 261.4L327 260.5L327.8 260.7L328.7 262.4L329.5 262.3L330.4 262.8L331.2 263.8L332.1 263.2L332.9 264.2L333.8 264.7L334.6 265.1L335.5 265.2L336.3 265.2L337.2 265.5" stroke="#000" stroke-width="0.85" fill="none" stroke-dasharray="1.4 1.1" stroke-linejoin="round"/>
<path d="M295.5 260.1L296.4 258.9L297.2 258.8L298.1 260.6L298.9 259.9L299.8 259.4L300.6 259.4L301.5 259.6L302.3 260L303.2 258.7L304 257.8L304.9 258.9L305.7 260.5L306.6 259L307.4 259.5L308.3 258.9L309.1 257.1L310 259.8L310.8 259.6L311.7 260.7L312.5 259.9L313.4 260.3L314.2 257.4L315.1 259.1L315.9 260.3L316.8 257L317.6 261.2L318.5 258.4L319.3 258.2L320.2 258.8L321 259.8L321.9 259.7L322.7 260L323.6 258.5L324.4 262.5L325.3 260.3L326.1 259.7L327 260.9L327.8 262.5L328.7 261.3L329.5 262.2L330.4 261.5L331.2 261.7L332.1 263.1L332.9 264.4L333.8 264.2L334.6 264.8L335.5 264.9L336.3 265.2L337.2 265.4" stroke="#000" stroke-width="0.85" fill="none" stroke-linejoin="round"/>
<path d="M60 265.4L60.9 264.6L61.7 264.4L62.6 264.5L63.4 265.7L64.2 265.1L65.1 265.1L66 264.9L66.8 265.5L67.7 265.1L68.5 265.3L69.4 265.3L70.2 264.5L71.1 264.6L71.9 264.6L72.8 265L73.6 264.2L74.5 264.9L75.3 265L76.2 264.8L77 265.3L77.9 265.5L78.7 265.1L79.6 265.7L80.4 265.6L81.3 265.1L82.1 265.6L83 264.6L83.8 265.2L84.7 265.4L85.5 265.4L86.4 265.1L87.2 264.9L88.1 265L88.9 265.3L89.8 265.6L90.6 265.4L91.5 265.2L92.3 265.5L93.2 265.3L94 265.6L94.9 265L95.7 265.5L96.6 265.1L97.4 265L98.3 265.5L99.1 264.7L100 265.6L100.8 265.6L101.7 265.6L102.5 265.5L103.4 264.8L104.2 264.7L105.1 264.8L105.9 264.9L106.8 264.5L107.6 265.2L108.5 265.6L109.3 265.6L110.2 265L111 265.2L111.9 265.6L112.7 265.2L113.6 265.3L114.4 265.2L115.3 265L116.1 265.7L117 265.7L117.8 265.7L118.7 265.4L119.5 265.3L120.4 265L121.2 265.2L122.1 265.6L122.9 265.6L123.8 265.6L124.6 265.3L125.5 264.7L126.3 265.5L127.2 265.4L128 265.6L128.9 265.1L129.7 264.8L130.6 265.1L131.4 265.2L132.3 265.6L133.1 265.2L134 265L134.8 265.4L135.7 265.5L136.5 264.5L137.4 265L138.2 265.5L139.1 265.1L139.9 265.1L140.8 265.5L141.6 264.7L142.5 265.6L143.3 265.5L144.2 265L145 264.4L145.9 265.4L146.7 265.6L147.6 264.7L148.4 264.9L149.3 263.6L150.1 264.7L151 265.5L151.8 265.1L152.7 264.5L153.5 265.4L154.4 265.1L155.2 265.1L156.1 265.7L156.9 265.6L157.8 265.7L158.6 264.8L159.5 265.1L160.3 265L161.2 265.7L162 265.7L162.9 265.1L163.7 265.1L164.6 265.4L165.4 264.8L166.3 265.2L167.1 265.2L168 264.8L168.8 264.3L169.7 264.6L170.5 265.2L171.4 264.9L172.2 265L173.1 265.7L173.9 264.8L174.8 265.4L175.6 264.3L176.5 265L177.3 264.8L178.2 265.3L179 265.5L179.9 265.2L180.7 265.4L181.6 265.3L182.4 265.5L183.3 265.2L184.1 265.3L185 264.7L185.8 265L186.7 265.3L187.5 265.3L188.4 265.6L189.2 265.4L190.1 265.6L190.9 264.9L191.8 265.3L192.6 264.6L193.5 264.8L194.3 265.3L195.2 265.1L196 265.3L196.9 265.1L197.7 265.6L198.6 265.2L199.4 265.1L200.3 265.3L201.1 265.2L202 265.4L202.8 265.4L203.7 265.6L204.5 265.7L205.4 265.3L206.2 265.4L207.1 265.4L207.9 265.4L208.8 264.9L209.6 265.5L210.5 264.7L211.3 265.4L212.2 265.6L213 265.7L213.9 265.3L214.7 265.1L215.6 265.6L216.4 265.6L217.3 265L218.1 265L219 265.5L219.8 264.9L220.7 264.9L221.5 265.4L222.4 264.6L223.2 265.2L224.1 264.5L224.9 265.6L225.8 265.5L226.6 265.3L227.5 265.5L228.3 265.3L229.2 265.4L230 265.3L230.9 264.1L231.7 265.2L232.6 265.2L233.4 265L234.3 265L235.1 265L236 265.6L236.8 265.6L237.7 264.7L238.5 264.3L239.4 265.6L240.2 265.6L241.1 265.3L241.9 263.8L242.8 265.7L243.6 265.3L244.5 265.1L245.3 265.5L246.2 264.9L247 265.3L247.9 265.7L248.7 265.3L249.6 265.5" stroke="#000" stroke-width="0.9" fill="none" stroke-linejoin="round"/>
<path d="M60 265.7L60.9 264.6L61.7 265.6L62.6 265.4L63.4 264.5L64.2 265.2L65.1 265.4L66 265.3L66.8 264.7L67.7 264.5L68.5 265.5L69.4 265.3L70.2 264.3L71.1 265.5L71.9 265.1L72.8 265.4L73.6 264.7L74.5 264.8L75.3 265.6L76.2 265.4L77 265.5L77.9 265.4L78.7 265.2L79.6 265.6L80.4 265.5L81.3 265.2L82.1 265.1L83 265.5L83.8 265.6L84.7 265.5L85.5 265L86.4 265L87.2 264.9L88.1 265.1L88.9 265.5L89.8 265.6L90.6 265L91.5 265L92.3 265.4L93.2 265.5L94 264.8L94.9 264.7L95.7 265L96.6 265.6L97.4 265.1L98.3 265.1L99.1 265.4L100 265.4L100.8 265.3L101.7 265.5L102.5 265L103.4 265.2L104.2 265.5L105.1 265.6L105.9 265.7L106.8 265.5L107.6 265L108.5 265.3L109.3 264.2L110.2 265.7L111 265L111.9 264.3L112.7 265.3L113.6 265.1L114.4 265.6L115.3 264.4L116.1 264.9L117 264.7L117.8 264.7L118.7 265.3L119.5 265.2L120.4 265.7L121.2 265.7L122.1 265.3L122.9 265.3L123.8 265.6L124.6 264.8L125.5 265.2L126.3 265.5L127.2 265.6L128 265.6L128.9 265.6L129.7 265.2L130.6 265.4L131.4 265.7L132.3 265L133.1 265.5L134 265.4L134.8 265.1L135.7 264.9L136.5 265.5L137.4 264.5L138.2 265L139.1 264.9L139.9 265L140.8 265.4L141.6 265L142.5 265.3L143.3 265.4L144.2 265.3L145 265L145.9 265.1L146.7 265.1L147.6 265.6L148.4 264.6L149.3 265L150.1 265.5L151 265L151.8 265.2L152.7 265.2L153.5 265.6L154.4 265.2L155.2 265.2L156.1 265.5L156.9 265.3L157.8 265.5L158.6 265.5L159.5 265.5L160.3 265.4L161.2 265.6L162 264.7L162.9 264.1L163.7 265.4L164.6 265L165.4 265.5L166.3 265.1L167.1 265.4L168 265.4L168.8 265.1L169.7 265.3L170.5 265.1L171.4 264.6L172.2 264.4L173.1 265L173.9 264.1L174.8 265.4L175.6 265.5L176.5 265.6L177.3 265.4L178.2 265L179 265.5L179.9 264.5L180.7 264.8L181.6 265.5L182.4 265.4L183.3 265L184.1 264L185 265.6L185.8 265.5L186.7 265.5L187.5 264.9L188.4 265.4L189.2 264.5L190.1 265.2L190.9 265.3L191.8 265.5L192.6 265.2L193.5 264.8L194.3 265.2L195.2 265.4L196 265.5L196.9 265.1L197.7 265.5L198.6 265.3L199.4 265.3L200.3 265.5L201.1 264.7L202 265.6L202.8 265.2L203.7 265.5L204.5 264.9L205.4 265.7L206.2 265.5L207.1 264.3L207.9 264.9L208.8 265.4L209.6 264.7L210.5 265.3L211.3 265.7L212.2 265.3L213 265.5L213.9 265.5L214.7 264.5L215.6 264.8L216.4 264L217.3 265L218.1 265.3L219 265L219.8 265.6L220.7 265.1L221.5 264.4L222.4 264.5L223.2 264.4L224.1 265L224.9 265L225.8 265L226.6 264.9L227.5 264.1L228.3 265.5L229.2 265.5L230 265.6L230.9 265.4L231.7 264.2L232.6 265.5L233.4 264.8L234.3 265L235.1 264.4L236 264.5L236.8 265.3L237.7 265.4L238.5 265.6L239.4 265.6L240.2 264.9L241.1 265.2L241.9 264.8L242.8 265.5L243.6 264.2L244.5 265.4L245.3 265.1L246.2 264.9L247 264.9L247.9 265.4L248.7 265L249.6 265.1" stroke="#000" stroke-width="0.9" fill="none" stroke-dasharray="1.3 1.3" stroke-linejoin="round"/>
<path d="M320 264.3L320.9 264.4L321.7 264.3L322.6 264.8L323.4 264.2L324.3 264.1L325.1 264.6L326 264.3L326.8 265L327.7 264.7L328.5 264.9L329.4 264.4L330.2 263.7L331.1 264.6L331.9 264.1L332.8 264.9L333.6 264.6L334.5 264L335.3 264.4L336.2 264.9L337 265L337.9 264.3L338.7 264.6L339.6 265.1L340.4 264.7L341.3 264.6L342.1 263.8L343 265L343.8 264.5L344.7 264.5L345.5 263.9L346.4 264.8L347.2 264.3L348.1 264.2L348.9 263.5L349.8 264.2L350.6 265L351.5 264.4L352.3 264.8L353.2 264.7L354 264.9L354.9 264.8L355.7 264.6L356.6 264.2L357.4 264.1L358.3 263.8L359.1 264.4L360 263.8L360.8 263.7L361.7 264.6L362.5 264.5L363.4 264.7L364.2 264.7L365.1 264.5L365.9 263.9L366.8 264.9L367.6 264.8L368.5 263.6L369.3 264.1L370.2 264L371 264.3L371.9 264.8L372.7 264.8L373.6 264.7L374.4 264.5L375.3 264.7L376.1 264.8L377 264.7L377.8 264.9L378.7 263.9L379.5 264.8L380.4 263.9L381.2 264.5L382.1 264.5L382.9 264.6L383.8 264.8L384.6 264.8L385.5 264.8L386.3 264.3L387.2 264.5L388 264.6L388.9 264.8L389.7 264.6L390.6 263.2L391.4 264L392.3 265L393.1 263.5L394 264.6L394.8 264.5L395.7 264.5L396.5 264.9L397.4 264.2L398.2 264.9L399.1 264.8L399.9 264.9L400.8 264.1L401.6 264.1L402.5 264.2L403.3 264.5L404.2 264.6L405 265L405.9 264.6L406.7 264.9L407.6 264.3L408.4 264.4L409.3 264.4L410.1 264.2L411 264.4L411.8 263.8L412.7 264.8L413.5 264.3L414.4 263.1L415.2 264.8L416.1 264.7L416.9 264.7L417.8 264.3L418.6 264.3L419.5 264.5L420.3 263.5L421.2 263.9L422 263.9L422.9 263.8L423.7 264.3L424.6 264.1L425.4 264.3L426.3 263.6L427.1 264.4L428 264.4L428.8 263.5L429.7 264.4L430.5 263.7L431.4 264L432.2 263.9L433.1 263.9L433.9 263.9L434.8 264.2L435.6 264.3L436.5 263.7L437.3 263.5L438.2 263.6L439 263.5L439.9 264.1L440.7 263.5L441.6 263.6L442.4 263.9L443.3 264.2L444.1 264L445 264L445.8 263.1L446.7 264.2L447.5 263.7L448.4 262.4L449.2 263.4L450.1 264.1L450.9 264.1L451.8 263.2L452.6 263.5L453.5 263.3L454.3 264L455.2 264L456 263.9L456.9 262.8L457.7 263.8L458.6 263.1L459.4 263.3L460.3 263.7L461.1 263.3L462 263.3L462.8 263.1L463.7 262.7L464.5 263.8L465.4 263.8L466.2 263.7L467.1 263.6L467.9 263.3L468.8 263.4L469.6 263.3L470.5 263.5L471.3 263.5L472.2 263.4L473 263.3L473.9 263.1L474.7 262.7L475.6 263.1L476.4 263.5L477.3 263.7L478.1 262.5L479 263.4L479.8 263.3L480.7 262.8L481.5 263.3L482.4 263.2L483.2 263.5L484.1 262.7L484.9 262.6L485.8 263.4L486.6 263L487.5 263.1L488.3 263.4L489.2 263.4L490 263.5L490.9 263.1L491.7 263.5L492.6 262.9L493.4 263.3L494.3 263.3L495.1 263.4L496 263.1L496.8 263.3L497.7 262.8L498.5 263.3L499.4 263.1L500.2 263.2L501.1 263.2L501.9 262.9L502.8 263.2L503.6 262.8L504.5 262.9L505.3 263.3L506.2 261.7L507 263.1L507.9 263.2L508.7 263.3L509.6 263.2L510.4 263.3" stroke="#000" stroke-width="0.9" fill="none" stroke-linejoin="round"/>
<path d="M320 263.9L320.9 265L321.7 264.1L322.6 264.8L323.4 264.6L324.3 264.8L325.1 264.9L326 264.5L326.8 264.4L327.7 264.9L328.5 264.8L329.4 264.5L330.2 264.9L331.1 264.8L331.9 263.5L332.8 265.1L333.6 265L334.5 264.9L335.3 264.9L336.2 264.9L337 264.9L337.9 264.6L338.7 264.7L339.6 265.1L340.4 264.9L341.3 264.9L342.1 264.2L343 264.4L343.8 264.9L344.7 264.5L345.5 264.5L346.4 265.1L347.2 265.1L348.1 264.5L348.9 264.8L349.8 264.9L350.6 264.5L351.5 264.7L352.3 263.5L353.2 264.7L354 264.5L354.9 264.4L355.7 264.6L356.6 264.9L357.4 264.2L358.3 264.1L359.1 264.8L360 264L360.8 264.2L361.7 265.1L362.5 263.4L363.4 264.8L364.2 264.8L365.1 264.3L365.9 264.3L366.8 264.8L367.6 264.5L368.5 264.4L369.3 263.4L370.2 264.5L371 264.5L371.9 264.4L372.7 264.8L373.6 264.4L374.4 264.3L375.3 264L376.1 265.1L377 264.5L377.8 264.5L378.7 265.1L379.5 264.2L380.4 265.1L381.2 264.7L382.1 263.9L382.9 264.1L383.8 264.5L384.6 264.8L385.5 264.6L386.3 263.7L387.2 263.9L388 264.9L388.9 264.8L389.7 264.4L390.6 265L391.4 263.8L392.3 264.8L393.1 264.7L394 264.5L394.8 264.8L395.7 264.9L396.5 264.9L397.4 264.7L398.2 264.8L399.1 264.8L399.9 264.9L400.8 264.3L401.6 263.9L402.5 264.6L403.3 264.9L404.2 264.5L405 263.7L405.9 265L406.7 264.8L407.6 264.9L408.4 264L409.3 263.9L410.1 264.8L411 264.4L411.8 263.6L412.7 264.5L413.5 263.8L414.4 264.2L415.2 264.4L416.1 264.5L416.9 264.4L417.8 263.8L418.6 264.4L419.5 263.6L420.3 264.2L421.2 263.7L422 264.5L422.9 263.7L423.7 263.3L424.6 263.4L425.4 263.9L426.3 264.1L427.1 264L428 262.4L428.8 263.5L429.7 263.6L430.5 263.8L431.4 263.7L432.2 262.5L433.1 264L433.9 263.8L434.8 263.3L435.6 264L436.5 263.5L437.3 263.6L438.2 263.6L439 264.3L439.9 263.5L440.7 263.1L441.6 263.7L442.4 263.2L443.3 263.8L444.1 264.1L445 263.5L445.8 263.9L446.7 264L447.5 264L448.4 263.5L449.2 264L450.1 263.4L450.9 263.7L451.8 263.6L452.6 263.9L453.5 263.3L454.3 263.6L455.2 263.5L456 263.2L456.9 263.7L457.7 263L458.6 263.3L459.4 263.1L460.3 262.9L461.1 262.9L462 263.5L462.8 263.5L463.7 263.8L464.5 263L465.4 263.8L466.2 263.8L467.1 262.5L467.9 262.9L468.8 263.6L469.6 263.1L470.5 263.2L471.3 263.8L472.2 263.3L473 262.4L473.9 263L474.7 263.7L475.6 263.7L476.4 263.5L477.3 263.1L478.1 263.6L479 263.6L479.8 263.5L480.7 263.3L481.5 263.5L482.4 263.5L483.2 262.3L484.1 262.8L484.9 263.1L485.8 262.5L486.6 262.7L487.5 262.6L488.3 262.6L489.2 263.5L490 262.9L490.9 262.5L491.7 263.5L492.6 263.3L493.4 262.8L494.3 263.1L495.1 263.4L496 263.5L496.8 262.3L497.7 263.4L498.5 262.7L499.4 262.8L500.2 262.8L501.1 263.1L501.9 263.4L502.8 262.9L503.6 263L504.5 262.3L505.3 262.8L506.2 263.2L507 263L507.9 263.2L508.7 262.8L509.6 263.1L510.4 263.3" stroke="#000" stroke-width="0.9" fill="none" stroke-dasharray="1.3 1.3" stroke-linejoin="round"/>
<path d="M34 65.6V273" stroke="#000" stroke-width="1.9" fill="none"/>
<path d="M29.7 66.4H34" stroke="#000" stroke-width="1.5" fill="none"/>
<path d="M29.7 117.3H34" stroke="#000" stroke-width="1.5" fill="none"/>
<path d="M29.7 168.6H34" stroke="#000" stroke-width="1.5" fill="none"/>
<path d="M29.7 219H34" stroke="#000" stroke-width="1.5" fill="none"/>
<path d="M29.7 267.8H34" stroke="#000" stroke-width="1.5" fill="none"/>
<path d="M34 267L251.3 267" stroke="#000" stroke-width="2.2" fill="none"/>
<path d="M34 267V272.7" stroke="#000" stroke-width="1.6" fill="none"/>
<path d="M50.2 267V269.4" stroke="#000" stroke-width="1.2" fill="none"/>
<path d="M59.6 267V269.4" stroke="#000" stroke-width="1.2" fill="none"/>
<path d="M66.3 267V269.4" stroke="#000" stroke-width="1.2" fill="none"/>
<path d="M71.5 267V269.4" stroke="#000" stroke-width="1.2" fill="none"/>
<path d="M75.8 267V269.4" stroke="#000" stroke-width="1.2" fill="none"/>
<path d="M79.4 267V269.4" stroke="#000" stroke-width="1.2" fill="none"/>
<path d="M82.5 267V269.4" stroke="#000" stroke-width="1.2" fill="none"/>
<path d="M85.2 267V269.4" stroke="#000" stroke-width="1.2" fill="none"/>
<path d="M87.7 267V272.7" stroke="#000" stroke-width="1.6" fill="none"/>
<path d="M104 267V269.4" stroke="#000" stroke-width="1.2" fill="none"/>
<path d="M113.6 267V269.4" stroke="#000" stroke-width="1.2" fill="none"/>
<path d="M120.3 267V269.4" stroke="#000" stroke-width="1.2" fill="none"/>
<path d="M125.6 267V269.4" stroke="#000" stroke-width="1.2" fill="none"/>
<path d="M129.9 267V269.4" stroke="#000" stroke-width="1.2" fill="none"/>
<path d="M133.5 267V269.4" stroke="#000" stroke-width="1.2" fill="none"/>
<path d="M136.6 267V269.4" stroke="#000" stroke-width="1.2" fill="none"/>
<path d="M139.4 267V269.4" stroke="#000" stroke-width="1.2" fill="none"/>
<path d="M141.9 267V272.7" stroke="#000" stroke-width="1.6" fill="none"/>
<path d="M158.2 267V269.4" stroke="#000" stroke-width="1.2" fill="none"/>
<path d="M167.7 267V269.4" stroke="#000" stroke-width="1.2" fill="none"/>
<path d="M174.4 267V269.4" stroke="#000" stroke-width="1.2" fill="none"/>
<path d="M179.6 267V269.4" stroke="#000" stroke-width="1.2" fill="none"/>
<path d="M183.9 267V269.4" stroke="#000" stroke-width="1.2" fill="none"/>
<path d="M187.5 267V269.4" stroke="#000" stroke-width="1.2" fill="none"/>
<path d="M190.7 267V269.4" stroke="#000" stroke-width="1.2" fill="none"/>
<path d="M193.4 267V269.4" stroke="#000" stroke-width="1.2" fill="none"/>
<path d="M195.9 267V272.7" stroke="#000" stroke-width="1.6" fill="none"/>
<path d="M212.6 267V269.4" stroke="#000" stroke-width="1.2" fill="none"/>
<path d="M222.3 267V269.4" stroke="#000" stroke-width="1.2" fill="none"/>
<path d="M229.3 267V269.4" stroke="#000" stroke-width="1.2" fill="none"/>
<path d="M234.6 267V269.4" stroke="#000" stroke-width="1.2" fill="none"/>
<path d="M239 267V269.4" stroke="#000" stroke-width="1.2" fill="none"/>
<path d="M242.7 267V269.4" stroke="#000" stroke-width="1.2" fill="none"/>
<path d="M245.9 267V269.4" stroke="#000" stroke-width="1.2" fill="none"/>
<path d="M248.8 267V269.4" stroke="#000" stroke-width="1.2" fill="none"/>
<path d="M251.3 265.5V272.7" stroke="#000" stroke-width="1.6" fill="none"/>
<path d="M294.4 65.5V272.6" stroke="#000" stroke-width="1.9" fill="none"/>
<path d="M290.1 66.3H294.4" stroke="#000" stroke-width="1.5" fill="none"/>
<path d="M290.1 116.8H294.4" stroke="#000" stroke-width="1.5" fill="none"/>
<path d="M290.1 166.3H294.4" stroke="#000" stroke-width="1.5" fill="none"/>
<path d="M290.1 217H294.4" stroke="#000" stroke-width="1.5" fill="none"/>
<path d="M290.1 267.1H294.4" stroke="#000" stroke-width="1.5" fill="none"/>
<path d="M294.4 266.6L403.6 266.3L456.9 265.3L512.5 264.6" stroke="#000" stroke-width="2.2" fill="none"/>
<path d="M294.4 266.6V272.3" stroke="#000" stroke-width="1.6" fill="none"/>
<path d="M310.8 266.6V269" stroke="#000" stroke-width="1.2" fill="none"/>
<path d="M320.4 266.5V268.9" stroke="#000" stroke-width="1.2" fill="none"/>
<path d="M327.2 266.5V268.9" stroke="#000" stroke-width="1.2" fill="none"/>
<path d="M332.4 266.5V268.9" stroke="#000" stroke-width="1.2" fill="none"/>
<path d="M336.7 266.5V268.9" stroke="#000" stroke-width="1.2" fill="none"/>
<path d="M340.4 266.5V268.9" stroke="#000" stroke-width="1.2" fill="none"/>
<path d="M343.5 266.5V268.9" stroke="#000" stroke-width="1.2" fill="none"/>
<path d="M346.3 266.5V268.9" stroke="#000" stroke-width="1.2" fill="none"/>
<path d="M348.8 266.5V272.2" stroke="#000" stroke-width="1.6" fill="none"/>
<path d="M365.3 266.4V268.8" stroke="#000" stroke-width="1.2" fill="none"/>
<path d="M374.9 266.4V268.8" stroke="#000" stroke-width="1.2" fill="none"/>
<path d="M381.8 266.4V268.8" stroke="#000" stroke-width="1.2" fill="none"/>
<path d="M387.1 266.3V268.7" stroke="#000" stroke-width="1.2" fill="none"/>
<path d="M391.4 266.3V268.7" stroke="#000" stroke-width="1.2" fill="none"/>
<path d="M395.1 266.3V268.7" stroke="#000" stroke-width="1.2" fill="none"/>
<path d="M398.3 266.3V268.7" stroke="#000" stroke-width="1.2" fill="none"/>
<path d="M401.1 266.3V268.7" stroke="#000" stroke-width="1.2" fill="none"/>
<path d="M403.6 266.3V272" stroke="#000" stroke-width="1.6" fill="none"/>
<path d="M419.6 266V268.4" stroke="#000" stroke-width="1.2" fill="none"/>
<path d="M429 265.8V268.2" stroke="#000" stroke-width="1.2" fill="none"/>
<path d="M435.7 265.7V268.1" stroke="#000" stroke-width="1.2" fill="none"/>
<path d="M440.9 265.6V268" stroke="#000" stroke-width="1.2" fill="none"/>
<path d="M445.1 265.5V267.9" stroke="#000" stroke-width="1.2" fill="none"/>
<path d="M448.6 265.5V267.9" stroke="#000" stroke-width="1.2" fill="none"/>
<path d="M451.7 265.4V267.8" stroke="#000" stroke-width="1.2" fill="none"/>
<path d="M454.5 265.3V267.7" stroke="#000" stroke-width="1.2" fill="none"/>
<path d="M456.9 265.3V271" stroke="#000" stroke-width="1.6" fill="none"/>
<path d="M473.6 265.1V267.5" stroke="#000" stroke-width="1.2" fill="none"/>
<path d="M483.4 265V267.4" stroke="#000" stroke-width="1.2" fill="none"/>
<path d="M490.4 264.9V267.3" stroke="#000" stroke-width="1.2" fill="none"/>
<path d="M495.8 264.8V267.2" stroke="#000" stroke-width="1.2" fill="none"/>
<path d="M500.2 264.8V267.2" stroke="#000" stroke-width="1.2" fill="none"/>
<path d="M503.9 264.7V267.1" stroke="#000" stroke-width="1.2" fill="none"/>
<path d="M507.1 264.7V267.1" stroke="#000" stroke-width="1.2" fill="none"/>
<path d="M510 264.6V267" stroke="#000" stroke-width="1.2" fill="none"/>
<path d="M512.5 263.1V270.3" stroke="#000" stroke-width="1.6" fill="none"/>
<g class="t">
<text x="137" y="11.7" font-size="16.45" font-weight="bold">Platelet GPIb</text>
<text x="233.6" y="11.7" font-size="16.45" style="stroke-width:0.15">α</text>
<text x="246.9" y="11.7" font-size="16.4" font-weight="bold">Surface Expression</text>
<text x="204.3" y="311.9" font-size="14.5" font-weight="bold">Fluorescence Intensity</text>
<text transform="translate(10,182.8) rotate(-90)" font-size="12.6" font-weight="bold">Events</text>
<text x="42.2" y="167.9" font-size="12.7" font-weight="bold">Daughter</text>
<text x="103.5" y="139.8" font-size="12.7" font-weight="bold">Mother</text>
<text x="170.3" y="200.5" font-size="12.7" font-weight="bold">Normals</text>
<text x="301.8" y="167.5" font-size="12.7" font-weight="bold">Son</text>
<text x="367.7" y="112.3" font-size="12.7" font-weight="bold">Father</text>
<text x="429.5" y="199.2" font-size="12.7" font-weight="bold">Normals</text>
</g>
<g font-size="9.2" stroke="#000" stroke-width="0.12"><text x="82.85" y="283.2">10<tspan font-size="6.4" dx="-0.5" dy="-5.1">1</tspan></text><text x="136.25" y="283.0">10<tspan font-size="6.4" dx="-0.5" dy="-5.1">2</tspan></text><text x="190.45" y="283.1">10<tspan font-size="6.4" dx="-0.5" dy="-5.1">3</tspan></text><text x="246.95" y="283.0">10<tspan font-size="6.4" dx="-0.5" dy="-5.1">4</tspan></text><text x="344.35" y="283.5">10<tspan font-size="6.4" dx="-0.5" dy="-5.1">1</tspan></text><text x="399.20" y="283.7">10<tspan font-size="6.4" dx="-0.5" dy="-5.1">2</tspan></text><text x="452.65" y="283.3">10<tspan font-size="6.4" dx="-0.5" dy="-5.1">3</tspan></text><text x="508.15" y="282.3">10<tspan font-size="6.4" dx="-0.5" dy="-5.1">4</tspan></text></g>
<g font-size="9.2" stroke="#000" stroke-width="0.15">
<text transform="translate(24.1,69.3) rotate(-90) scale(0.9,1)">128</text>
<text transform="translate(23.9,272.9) rotate(-90)">0</text>
<text transform="translate(283.2,70.3) rotate(-90) scale(0.9,1)">128</text>
<text transform="translate(284.7,269.7) rotate(-90)">0</text>
</g>
</svg>
</body></html>
